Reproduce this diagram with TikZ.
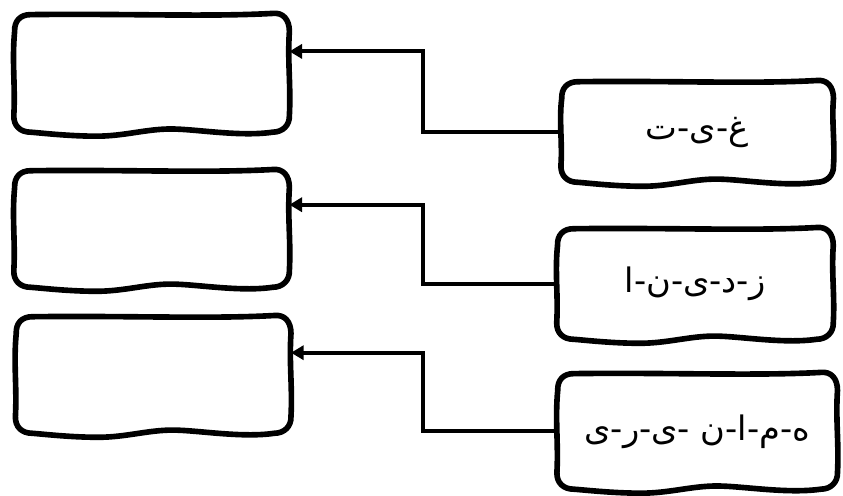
\documentclass[tikz,border=0pt]{standalone}
\usepackage{fontspec}
\usepackage{tikz}
\usetikzlibrary{arrows.meta}
\usetikzlibrary{calc}
\usetikzlibrary{positioning}
\TeXXeTstate=1
\newfontfamily\farsifont[Script=Arabic]{DejaVu Sans}

\tikzset{
	handnode/.style={draw=none, inner sep=0pt, font=\farsifont\fontsize{24}{28}\selectfont},
	boxline/.style={line width=4pt, line cap=round, line join=round},
	conn/.style={line width=2.8pt, -{Triangle[length=9pt,width=10pt]}}
}

% hand drawn outline round a node
\newcommand{\handbox}[1]{%
	\draw[boxline] ($(#1.north west)+(0.42,0)$)
		.. controls ($(#1.north west)!0.4!(#1.north east)+(0,0.03)$) and ($(#1.north west)!0.7!(#1.north east)+(0,-0.06)$) .. ($(#1.north east)+(-0.42,0.03)$)
		.. controls ($(#1.north east)+(-0.16,0.06)$) and ($(#1.north east)+(0,-0.12)$) .. ($(#1.north east)+(0,-0.42)$)
		.. controls ($(#1.east)+(-0.05,0.3)$) and ($(#1.east)+(0.04,-0.3)$) .. ($(#1.south east)+(0,0.42)$)
		.. controls ($(#1.south east)+(0.01,0.18)$) and ($(#1.south east)+(-0.16,0)$) .. ($(#1.south east)+(-0.42,0)$)
		.. controls ($(#1.south west)!0.82!(#1.south east)+(0,-0.12)$) and ($(#1.south west)!0.66!(#1.south east)+(0,0.08)$) .. ($(#1.south west)!0.57!(#1.south east)+(0,0.08)$)
		.. controls ($(#1.south west)!0.48!(#1.south east)+(0,0.08)$) and ($(#1.south west)!0.4!(#1.south east)+(0,-0.1)$) .. ($(#1.south west)!0.3!(#1.south east)+(0,-0.1)$)
		.. controls ($(#1.south west)!0.2!(#1.south east)+(0,-0.1)$) and ($(#1.south west)!0.1!(#1.south east)+(0,-0.02)$) .. ($(#1.south west)+(0.42,0)$)
		.. controls ($(#1.south west)+(0.16,0)$) and ($(#1.south west)+(-0.01,0.16)$) .. ($(#1.south west)+(0,0.42)$)
		.. controls ($(#1.west)+(0.04,-0.3)$) and ($(#1.west)+(-0.05,0.3)$) .. ($(#1.north west)+(0.02,-0.42)$)
		.. controls ($(#1.north west)+(0.01,-0.16)$) and ($(#1.north west)+(0.16,0)$) .. cycle;
}

\begin{document}
\begin{tikzpicture}
	\useasboundingbox (0,0) rectangle (21.075,12.375);

	% empty boxes on the left
	\node[handnode, minimum width=6.875cm, minimum height=2.925cm] (l1) at (3.79,10.54) {};
	\node[handnode, minimum width=6.875cm, minimum height=2.9cm] (l2) at (3.79,6.65) {};
	\node[handnode, minimum width=6.875cm, minimum height=2.9cm] (l3) at (3.83,3.0) {};

	% letter boxes on the right
	\node[handnode, minimum width=6.8cm, minimum height=2.5cm] (r1) at (17.43,9.075) {\beginR غ-ی-ت\endR};
	\node[handnode, minimum width=6.9cm, minimum height=2.75cm] (r2) at (17.375,5.275) {\beginR ز-د-ی-ن-ا\endR};
	\node[handnode, minimum width=7.0cm, minimum height=2.875cm] (r3) at (17.43,1.59) {\beginR ه-م-ا-ن -ی-ر-ی\endR};

	\foreach \b in {l1,l2,l3,r1,r2,r3} {\handbox{\b}}

	% arrow ends and the vertical line
	\coordinate (mid) at (10.575,0);
	\coordinate (e1) at ($(l1.north east)+(0,-0.92)$);
	\coordinate (e2) at ($(l2.north east)+(0,-0.85)$);
	\coordinate (e3) at ($(l3.north east)+(0,-0.9)$);

	\draw[conn] (r1.west) -| (mid |- e1) -- (e1);
	\draw[conn] (r2.west) -| (mid |- e2) -- (e2);
	\draw[conn] (r3.west) -| (mid |- e3) -- (e3);
\end{tikzpicture}
\end{document}
